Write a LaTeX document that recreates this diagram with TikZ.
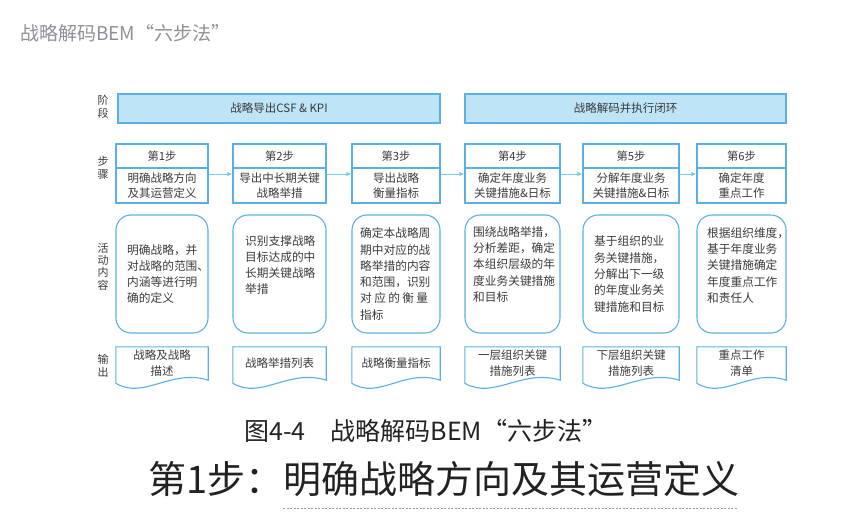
\documentclass[tikz,border=0pt]{standalone}
\usepackage{fontspec}
\setmainfont{Noto Sans CJK SC}
\usetikzlibrary{arrows.meta,calc}
\definecolor{lineblue}{HTML}{5AB0E2}
\definecolor{fillblue}{HTML}{BEE4F7}
\definecolor{arrowblue}{HTML}{7CC8EE}
\definecolor{txt}{HTML}{3A3A3A}
\definecolor{headgray}{HTML}{8C9099}
\definecolor{captxt}{HTML}{222222}
\definecolor{dashgray}{HTML}{9A9A9A}
\newcommand{\docshape}[1]{%
  \draw[docline] (#1.north west) -- (#1.north east) -- (#1.south east)
    .. controls ($(#1.south west)!0.6!(#1.south east)+(0,-12)$) and ($(#1.south west)!0.3!(#1.south east)+(0,20)$) ..
    ($(#1.south west)+(0,3)$) -- cycle;}
\begin{document}
\begin{tikzpicture}[x=1pt,y=-1pt,
  stage/.style={draw=lineblue, line width=1.3pt, fill=fillblue, minimum height=29pt, inner sep=0pt,
    font=\fontsize{11.5}{14}\selectfont, text=txt},
  steptop/.style={draw=lineblue, line width=1.1pt, minimum height=24pt, inner sep=0pt,
    font=\fontsize{11.3}{14}\selectfont, text=txt},
  stepbot/.style={draw=lineblue, line width=1.1pt, minimum height=35pt, inner sep=0pt, align=center,
    font=\fontsize{11.5}{15.5}\selectfont, text=txt},
  act/.style={draw=lineblue, line width=1.1pt, rounded corners=15pt, minimum height=118pt, inner sep=0pt},
  acttext/.style={text=txt, font=\fontsize{11.7}{16.3}\selectfont, align=left, inner sep=0pt, anchor=west},
  outbox/.style={minimum height=33pt, inner sep=0pt, align=center, text=txt,
    font=\fontsize{11.5}{16}\selectfont},
  docline/.style={draw=lineblue, line width=1.1pt},
  lab/.style={align=center, text=txt, inner sep=0pt},
  flow/.style={draw=arrowblue, line width=0.9pt, -{Latex[length=5pt,width=4.5pt]}}
]
\useasboundingbox (0,0) rectangle (853,516);

% header
\node[anchor=west, inner sep=0pt, text=headgray, font=\fontsize{19}{22}\selectfont] (head) at (20,33) {战略解码BEM“六步法”};

% row labels
\node[lab, font=\fontsize{11}{13}\selectfont] (lstage) at (103,106.5) {阶\\段};
\node[lab, font=\fontsize{11}{12.5}\selectfont] (lstep) at (103,168) {步\\骤};
\node[lab, font=\fontsize{11}{12.4}\selectfont] (lact) at (103,266.5) {活\\动\\内\\容};
\node[lab, font=\fontsize{11}{13}\selectfont] (lout) at (103,365.5) {输\\出};

% stages
\node[stage, minimum width=322pt] (st1) at (279,108.5) {战略导出CSF \& KPI};
\node[stage, minimum width=321pt] (st2) at (625.5,108.5) {战略解码并执行闭环};

% steps
\node[steptop, minimum width=92pt] (s1t) at (162,156) {第1步};
\node[stepbot, minimum width=92pt] (s1b) at (162,185.5) {明确战略方向\\及其运营定义};
\node[steptop, minimum width=93pt] (s2t) at (279.5,156) {第2步};
\node[stepbot, minimum width=93pt] (s2b) at (279.5,185.5) {导出中长期关键\\战略举措};
\node[steptop, minimum width=88pt] (s3t) at (396,156) {第3步};
\node[stepbot, minimum width=88pt] (s3b) at (396,185.5) {导出战略\\衡量指标};
\node[steptop, minimum width=95pt] (s4t) at (512.5,156) {第4步};
\node[stepbot, minimum width=95pt] (s4b) at (512.5,185.5) {确定年度业务\\关键措施\&日标};
\node[steptop, minimum width=96pt] (s5t) at (631,156) {第5步};
\node[stepbot, minimum width=96pt] (s5b) at (631,185.5) {分解年度业务\\关键措施\&日标};
\node[steptop, minimum width=89pt] (s6t) at (741.5,156) {第6步};
\node[stepbot, minimum width=89pt] (s6b) at (741.5,185.5) {确定年度\\重点工作};

\draw[flow] ([yshift=11.5pt]s1b.east) -- ([yshift=11.5pt]s2b.west);
\draw[flow] ([yshift=11.5pt]s2b.east) -- ([yshift=11.5pt]s3b.west);
\draw[flow] ([yshift=11.5pt]s3b.east) -- ([yshift=11.5pt]s4b.west);
\draw[flow] ([yshift=11.5pt]s4b.east) -- ([yshift=11.5pt]s5b.west);
\draw[flow] ([yshift=11.5pt]s5b.east) -- ([yshift=11.5pt]s6b.west);

% activities
\node[act, minimum width=92pt] (a1) at (162,274) {};
\node[act, minimum width=93pt] (a2) at (279.5,274) {};
\node[act, minimum width=88pt] (a3) at (396,274) {};
\node[act, minimum width=95pt] (a4) at (512.5,274) {};
\node[act, minimum width=96pt] (a5) at (631,274) {};
\node[act, minimum width=89pt] (a6) at (741.5,274) {};

\node[acttext] (t1) at (127,274) {明确战略，并\\对战略的范围、\\内涵等进行明\\确的定义};
\node[acttext] (t2) at (245,265) {识别支撑战略\\目标达成的中\\长期关键战略\\举措};
\node[acttext] (t3) at (360,274) {确定本战略周\\期中对应的战\\略举措的内容\\和范围，识别\\\makebox[68pt][l]{对\hfill 应\hfill 的\hfill 衡\hfill 量}\\指标};
\node[acttext] (t4) at (473,264.5) {围绕战略举措，\\分析差距，确定\\本组织层级的年\\度业务关键措施\\和目标};
\node[acttext] (t5) at (594,274) {基于组织的业\\务关键措施，\\分解出下一级\\的年度业务关\\键措施和目标};
\node[acttext] (t6) at (707,265.5) {根据组织维度，\\基于年度业务\\关键措施确定\\年度重点工作\\和责任人};

% outputs
\node[outbox, minimum width=92pt] (o1) at (162,363.5) {战略及战略\\描述};
\node[outbox, minimum width=93pt] (o2) at (279.5,363.5) {战略举措列表};
\node[outbox, minimum width=88pt] (o3) at (396,363.5) {战略衡量指标};
\node[outbox, minimum width=95pt] (o4) at (512.5,363.5) {一层组织关键\\措施列表};
\node[outbox, minimum width=96pt] (o5) at (631,363.5) {下层组织关键\\措施列表};
\node[outbox, minimum width=89pt] (o6) at (741.5,363.5) {重点工作\\清单};
\docshape{o1}
\docshape{o2}
\docshape{o3}
\docshape{o4}
\docshape{o5}
\docshape{o6}

% caption and title
\node[anchor=west, inner sep=0pt, text=captxt, font=\fontsize{25}{28}\selectfont] (cap) at (244,431) {图4-4\quad 战略解码BEM“六步法”};
\node[anchor=west, inner sep=0pt, text=captxt, font=\fontsize{38}{42}\selectfont] (title) at (148,479) {第1步：明确战略方向及其运营定义};
\coordinate (dl) at (283,508);
\coordinate (dr) at (737,508);
\draw[dashgray, line width=0.7pt, dash pattern=on 2pt off 1.5pt] (dl) -- (dr);
\end{tikzpicture}
\end{document}
